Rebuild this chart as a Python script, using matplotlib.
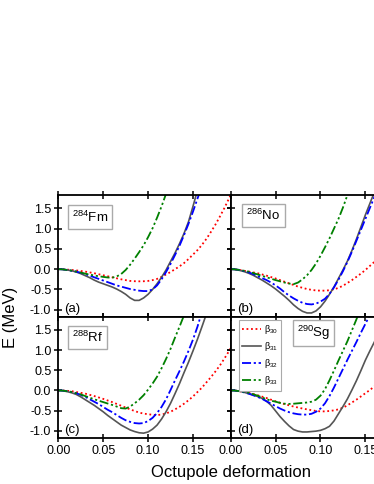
import numpy as np
import matplotlib
matplotlib.use("Agg")
import matplotlib.pyplot as plt

plt.rcParams['font.family'] = ['Liberation Sans', 'DejaVu Sans']
plt.rcParams['mathtext.fontset'] = 'custom'
plt.rcParams['mathtext.rm'] = 'Liberation Sans'
plt.rcParams['mathtext.it'] = 'Liberation Sans:italic'
plt.rcParams['mathtext.bf'] = 'Liberation Sans:bold'

nan = np.nan
# Octupole deformation grid
beta = [0.000, 0.005, 0.010, 0.015, 0.020, 0.025, 0.030, 0.035, 0.040, 0.045,
        0.050, 0.055, 0.060, 0.065, 0.070, 0.075, 0.080, 0.085, 0.090, 0.095,
        0.100, 0.105, 0.110, 0.115, 0.120, 0.125, 0.130, 0.135, 0.140, 0.145,
        0.150, 0.155, 0.160, 0.165, 0.170, 0.175, 0.180, 0.185, 0.190, 0.195,
        0.200]

nuclei = ["$^{284}$Fm", "$^{286}$No", "$^{288}$Rf", "$^{290}$Sg"]
panel_tags = ["(a)", "(b)", "(c)", "(d)"]
series_names = ["β$_{30}$", "β$_{31}$", "β$_{32}$", "β$_{33}$"]

# (a) 284Fm
fm_b30 = [0, -0.003, -0.01, -0.02, -0.03, -0.045, -0.06, -0.08, -0.10, -0.125,
          -0.15, -0.175, -0.20, -0.225, -0.25, -0.27, -0.29, -0.297, -0.30, -0.298,
          -0.29, -0.27, -0.24, -0.19, -0.13, -0.07, 0.00, 0.07, 0.15, 0.25,
          0.36, 0.47, 0.60, 0.75, 0.92, 1.10, 1.30, 1.51, 1.74, 1.97, 2.20]
fm_b31 = [0, -0.005, -0.02, -0.04, -0.07, -0.11, -0.16, -0.21, -0.27, -0.32,
          -0.36, -0.40, -0.44, -0.49, -0.55, -0.62, -0.71, -0.77, -0.77, -0.71,
          -0.62, -0.50, -0.36, -0.20, -0.02, 0.19, 0.40, 0.63, 0.88, 1.17,
          1.55, 1.95]
fm_b32 = [0, -0.005, -0.02, -0.04, -0.06, -0.09, -0.12, -0.16, -0.20, -0.24,
          -0.28, -0.32, -0.36, -0.40, -0.43, -0.46, -0.49, -0.51, -0.53, -0.54,
          -0.54, -0.50, -0.40, -0.25, -0.07, 0.13, 0.35, 0.58, 0.84, 1.12,
          1.42, 1.74, 2.05]
fm_b33 = [0, -0.005, -0.02, -0.035, -0.06, -0.085, -0.11, -0.135, -0.155, -0.175,
          -0.19, -0.205, -0.21, -0.18, -0.12, -0.02, 0.11, 0.26, 0.42, 0.59,
          0.79, 1.01, 1.27, 1.55, 1.86, 2.20]

# (b) 286No
no_b30 = [0, -0.005, -0.02, -0.04, -0.06, -0.08, -0.10, -0.13, -0.16, -0.195,
          -0.23, -0.27, -0.31, -0.35, -0.39, -0.43, -0.46, -0.49, -0.51, -0.525,
          -0.53, -0.53, -0.52, -0.50, -0.46, -0.41, -0.34, -0.27, -0.19, -0.11,
          -0.02, 0.08, 0.18, 0.30, 0.42, 0.56, 0.70, 0.86, 1.02, 1.20, 1.38]
no_b31 = [0, -0.01, -0.03, -0.06, -0.10, -0.15, -0.21, -0.27, -0.34, -0.41,
          -0.49, -0.58, -0.67, -0.77, -0.88, -0.97, -1.04, -1.08, -1.08, -1.03,
          -0.93, -0.79, -0.62, -0.44, -0.23, -0.02, 0.20, 0.46, 0.74, 1.04,
          1.34, 1.62, 1.90, 2.20]
no_b32 = [0, -0.005, -0.02, -0.05, -0.08, -0.12, -0.17, -0.22, -0.27, -0.33,
          -0.40, -0.48, -0.57, -0.65, -0.72, -0.78, -0.83, -0.86, -0.87, -0.85,
          -0.80, -0.73, -0.61, -0.45, -0.26, -0.05, 0.18, 0.43, 0.70, 0.97,
          1.24, 1.51, 1.78, 2.05]
no_b33 = [0, -0.005, -0.02, -0.04, -0.06, -0.095, -0.13, -0.165, -0.20, -0.235,
          -0.27, -0.30, -0.33, -0.355, -0.37, -0.33, -0.25, -0.15, -0.02, 0.14,
          0.33, 0.54, 0.76, 1.00, 1.24, 1.52, 1.83, 2.15]

# (c) 288Rf
rf_b30 = [0, -0.003, -0.01, -0.02, -0.04, -0.06, -0.08, -0.11, -0.14, -0.175,
          -0.21, -0.25, -0.29, -0.335, -0.38, -0.425, -0.47, -0.51, -0.55, -0.575,
          -0.59, -0.605, -0.61, -0.60, -0.57, -0.53, -0.47, -0.405, -0.33, -0.245,
          -0.15, -0.04, 0.07, 0.20, 0.33, 0.47, 0.62, 0.79, 0.97, 1.16, 1.35]
rf_b31 = [0, -0.01, -0.03, -0.06, -0.10, -0.16, -0.23, -0.30, -0.37, -0.45,
          -0.53, -0.62, -0.70, -0.78, -0.86, -0.92, -0.98, -1.02, -1.05, -1.06,
          -1.03, -0.96, -0.86, -0.71, -0.53, -0.32, -0.08, 0.17, 0.44, 0.70,
          0.98, 1.27, 1.58, 1.90, 2.20]
rf_b32 = [0, -0.005, -0.02, -0.04, -0.07, -0.11, -0.16, -0.22, -0.28, -0.34,
          -0.41, -0.48, -0.54, -0.61, -0.68, -0.74, -0.78, -0.81, -0.82, -0.81,
          -0.76, -0.68, -0.56, -0.41, -0.22, 0.01, 0.25, 0.48, 0.72, 0.98,
          1.26, 1.58, 1.95]
rf_b33 = [0, -0.005, -0.02, -0.04, -0.07, -0.10, -0.14, -0.18, -0.22, -0.255,
          -0.29, -0.325, -0.36, -0.40, -0.44, -0.45, -0.40, -0.32, -0.23, -0.12,
          0.02, 0.17, 0.34, 0.55, 0.78, 1.03, 1.31, 1.58, 1.86, 2.15]

# (d) 290Sg
sg_b30 = [0, -0.005, -0.02, -0.04, -0.06, -0.09, -0.12, -0.155, -0.19, -0.23,
          -0.27, -0.305, -0.34, -0.37, -0.40, -0.425, -0.45, -0.47, -0.49, -0.51,
          -0.52, -0.52, -0.51, -0.495, -0.47, -0.43, -0.37, -0.30, -0.23, -0.15,
          -0.07, 0.01, 0.10, 0.21, 0.32, 0.45, 0.58, 0.73, 0.88, 1.04, 1.20]
sg_b31 = [0, -0.005, -0.02, -0.045, -0.08, -0.11, -0.15, -0.20, -0.27, -0.37,
          -0.51, -0.65, -0.77, -0.88, -0.97, -1.01, -1.03, -1.03, -1.02, -1.01,
          -0.99, -0.95, -0.89, -0.76, -0.58, -0.40, -0.21, 0.01, 0.24, 0.49,
          0.75, 0.98, 1.20, 1.45, 1.70, 1.95]
sg_b32 = [0, -0.005, -0.02, -0.05, -0.08, -0.12, -0.16, -0.21, -0.27, -0.33,
          -0.39, -0.45, -0.50, -0.54, -0.57, -0.59, -0.60, -0.60, -0.58, -0.53,
          -0.45, -0.32, -0.14, 0.07, 0.30, 0.53, 0.76, 0.98, 1.20, 1.43,
          1.65, 1.87, 2.10]
sg_b33 = [0, -0.005, -0.02, -0.04, -0.06, -0.095, -0.13, -0.175, -0.22, -0.255,
          -0.28, -0.31, -0.33, -0.335, -0.33, -0.32, -0.31, -0.30, -0.28, -0.23,
          -0.13, 0.03, 0.25, 0.49, 0.74, 0.98, 1.22, 1.49, 1.76, 2.05]

panel_data = [
    [fm_b30, fm_b31, fm_b32, fm_b33],
    [no_b30, no_b31, no_b32, no_b33],
    [rf_b30, rf_b31, rf_b32, rf_b33],
    [sg_b30, sg_b31, sg_b32, sg_b33],
]

styles = [
    dict(color='#ff0000', linestyle=(0, (1, 1.5)), linewidth=1.3),
    dict(color='#555555', linestyle='-', linewidth=1.2),
    dict(color='#0000ff', linestyle=(0, (5, 1.5, 1.2, 1.5)), linewidth=1.3),
    dict(color='#008000', linestyle=(0, (5, 1.5, 1.2, 1.5, 1.2, 1.5)), linewidth=1.3),
]

W, H = 374, 484
fig = plt.figure(figsize=(W / 100, H / 100), dpi=100)

x_left = [58.3, 230.7]
axw = 172.4
rows = [(195, 317), (317, 438)]

label_pos = [(0.184, 0.82), (0.19, 0.83), (0.169, 0.83), (0.48, 0.87)]

axes = []
for i in range(4):
    r, c = divmod(i, 2)
    top, bot = rows[r]
    ax = fig.add_axes([x_left[c] / W, 1 - bot / H, axw / W, (bot - top) / H])
    axes.append(ax)
    for s in range(4):
        yv = panel_data[i][s]
        ax.plot(beta[:len(yv)], yv, label=series_names[s], **styles[s])
    ax.set_xlim(0, 0.192)
    ax.set_ylim(-1.18, 1.83 if r == 0 else 1.82)
    ax.set_xticks([0.00, 0.05, 0.10, 0.15])
    ax.set_yticks([-1.0, -0.5, 0.0, 0.5, 1.0, 1.5])
    ax.tick_params(direction='inout', length=6, width=1.1, labelsize=9,
                   top=True, right=True, pad=2)
    for sp in ax.spines.values():
        sp.set_linewidth(1.3)
    if r == 0:
        ax.set_xticklabels([])
    else:
        ax.set_xticklabels(['0.00', '0.05', '0.10', '0.15'])
    if c == 1:
        ax.set_yticklabels([])
    else:
        ax.set_yticklabels(['-1.0', '-0.5', '0.0', '0.5', '1.0', '1.5'])
    ax.text(label_pos[i][0], label_pos[i][1], nuclei[i], transform=ax.transAxes,
            ha='center', va='center', fontsize=9.5,
            bbox=dict(boxstyle='square,pad=0.3', facecolor='white',
                      edgecolor='#aaaaaa', linewidth=1.0))
    ax.text(0.035, 0.02, panel_tags[i], transform=ax.transAxes,
            ha='left', va='bottom', fontsize=9.5)

leg = axes[3].legend(loc='upper left', bbox_to_anchor=(0.05, 0.975),
                     borderaxespad=0, fontsize=6.5, handlelength=2.0,
                     handletextpad=0.4, labelspacing=0.45, borderpad=0.35,
                     fancybox=False, framealpha=1, edgecolor='#aaaaaa')
leg.get_frame().set_linewidth(0.8)

fig.text(0.027, 1 - 317 / H, 'E (MeV)', rotation=90, ha='center', va='center',
         fontsize=12)
fig.text(231 / W, 1 - 473 / H, 'Octupole deformation', ha='center', va='center',
         fontsize=12)

fig.savefig('out.png', dpi=100)
